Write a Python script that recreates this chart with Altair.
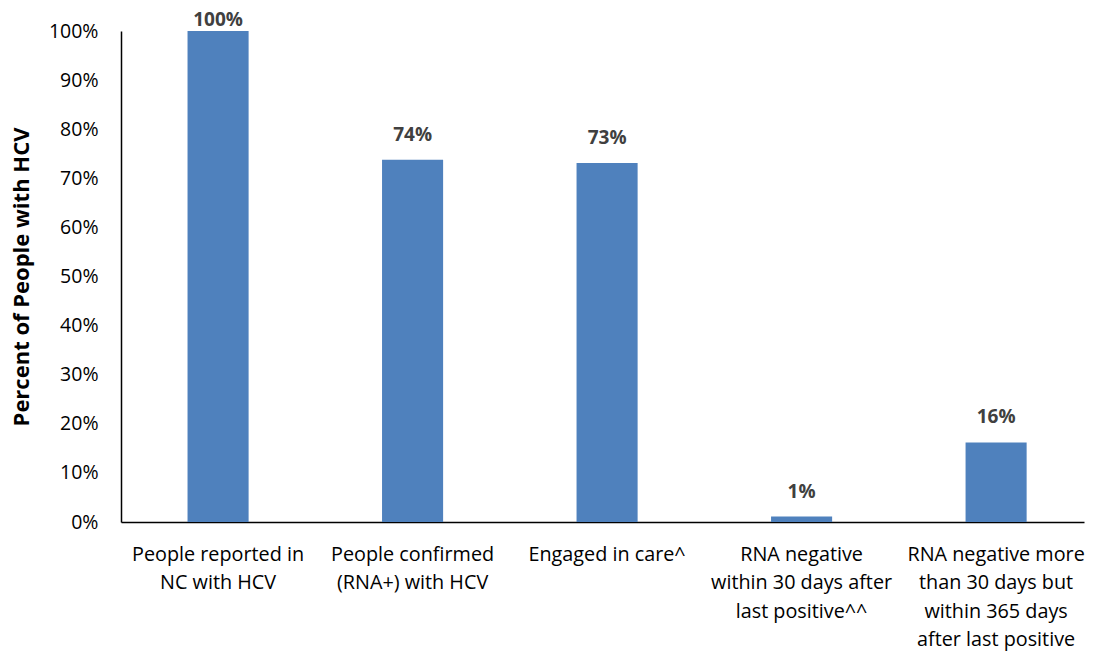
import altair as alt
import pandas as pd

categories = [
    "People reported in|NC with HCV",
    "People confirmed|(RNA+) with HCV",
    "Engaged in care^",
    "RNA negative|within 30 days after|last positive^^",
    "RNA negative more|than 30 days but|within 365 days|after last positive",
]
values = [100.0, 73.8, 73.1, 1.1, 16.2]
labels = ["100%", "74%", "73%", "1%", "16%"]

df = pd.DataFrame({"cat": categories, "value": values, "label": labels})

FONT = "Open Sans"

x = alt.X(
    "cat:N",
    sort=None,
    title=None,
    scale=alt.Scale(paddingInner=0.686, paddingOuter=0.3185, align=0.537),
    axis=alt.Axis(
        labelAngle=0,
        labelExpr="split(datum.label, '|')",
        labelFont=FONT,
        labelFontSize=19.8,
        labelColor="#000000",
        labelLineHeight=28.5,
        labelPadding=22,
        labelLimit=0,
        ticks=False,
        domainColor="#000000",
        domainWidth=1.5,
        grid=False,
    ),
)

bars = alt.Chart(df).mark_bar(color="#4F81BD").encode(
    x=x,
    y=alt.Y(
        "value:Q",
        scale=alt.Scale(domain=[0, 100], nice=False),
        title="Percent of People with HCV",
        axis=alt.Axis(
            values=list(range(0, 101, 10)),
            labelExpr="datum.value + '%'",
            labelFont=FONT,
            labelFontSize=19.5,
            labelColor="#000000",
            labelPadding=23,
            ticks=False,
            grid=False,
            domainColor="#000000",
            domainWidth=1.5,
            titleFont=FONT,
            titleFontSize=22,
            titleFontWeight="bold",
            titleColor="#000000",
            titlePadding=15,
        ),
    ),
)

text = alt.Chart(df).transform_calculate(
    pos="min(datum.value + 5.1, 102.2)"
).mark_text(
    font=FONT, fontSize=19, fontWeight="bold", color="#404040", baseline="middle"
).encode(
    x=x,
    y=alt.Y("pos:Q"),
    text="label:N",
)

chart = (
    alt.layer(bars, text)
    .properties(
        width=963,
        height=491,
        background="white",
        autosize=alt.AutoSizeParams(type="none"),
        padding={"left": 113, "top": 23, "right": 2, "bottom": 132},
    )
    .configure_view(strokeWidth=0, stroke=None)
    .configure_axis(grid=False)
)

chart.save("out.html", embed_options={"renderer": "svg", "actions": False})
